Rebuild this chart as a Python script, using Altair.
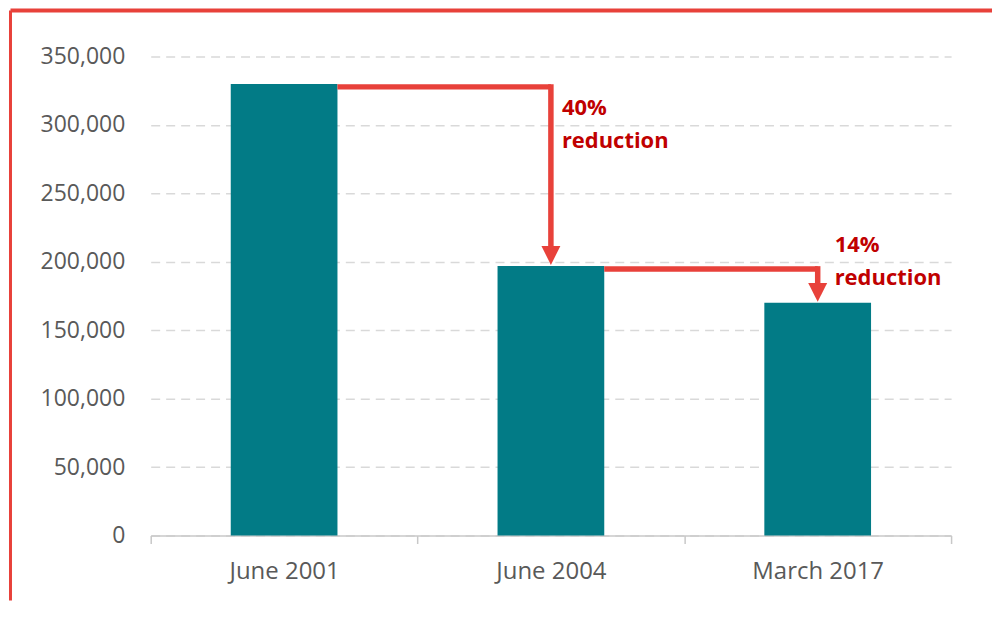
import altair as alt
import pandas as pd

categories = ["June 2001", "June 2004", "March 2017"]
values = [330000, 197000, 170000]
reductions = ["40%", "14%"]

TEAL = "#027B86"
RED = "#E8413A"
DARKRED = "#C00000"
GRAY = "#595959"
FONT = "Open Sans"
BAR_FRAC = 0.4

bars_df = pd.DataFrame({"period": categories, "count": values})
arrows_df = pd.DataFrame({
    "i": [0, 1],
    "from_period": categories[:-1],
    "to_period": categories[1:],
    "from_count": values[:-1],
    "to_count": values[1:],
    "label": [f"{r}\nreduction" for r in reductions],
})
arrows_df["shaft_end"] = arrows_df["to_count"] + 8000

xscale = alt.Scale(domain=categories, paddingInner=0, paddingOuter=0)
yscale = alt.Scale(domain=[0, 350000])

xaxis = alt.Axis(title=None, labelAngle=0, tickBand="extent", grid=False,
                 domainColor="#C8C8C8", domainWidth=1.5, tickColor="#C8C8C8",
                 tickWidth=1.5, tickSize=8, labelFont=FONT, labelFontSize=24,
                 labelColor=GRAY, labelPadding=16)
yaxis = alt.Axis(title=None, format=",", labelExpr="format(datum.value, ',')",
                 values=list(range(0, 350001, 50000)),
                 grid=True, gridDash=[9, 6], gridColor="#D9D9D9", gridWidth=1.5,
                 domain=False, ticks=False, labelPadding=26, labelFont=FONT,
                 labelFontSize=23, labelColor=GRAY)


def X(field, **kw):
    return alt.X(f"{field}:N", scale=xscale, axis=xaxis, **kw)


def Y(field):
    return alt.Y(f"{field}:Q", scale=yscale, axis=yaxis)


bars = alt.Chart(bars_df).mark_bar(color=TEAL, width=alt.RelativeBandSize(BAR_FRAC)).encode(
    x=X("period"), y=Y("count"))

arrows = alt.Chart(arrows_df)
hline = arrows.mark_rule(color=RED, strokeWidth=5.5, yOffset=3).encode(
    x=X("from_period", bandPosition=0.5 + BAR_FRAC / 2),
    x2=alt.X2("to_period", bandPosition=0.5),
    y=Y("from_count"),
)
vline = arrows.mark_rule(color=RED, strokeWidth=5.5, strokeCap="square", yOffset=3).encode(
    x=X("to_period", bandPosition=0.5),
    y=Y("from_count"),
    y2="shaft_end:Q",
)
heads = arrows.mark_point(shape="M-1,-2L1,-2L0,0Z", filled=True, size=361, color=RED,
                          opacity=1, strokeWidth=0, yOffset=-1).encode(
    x=X("to_period", bandPosition=0.5),
    y=Y("to_count"),
)
text1 = arrows.transform_filter("datum.i == 0").mark_text(
    align="left", baseline="top", dx=11, dy=14, lineBreak="\n", lineHeight=33,
    font=FONT, fontSize=22, fontWeight="bold", color=DARKRED).encode(
    x=X("to_period", bandPosition=0.5), y=Y("from_count"), text="label:N")
text2 = arrows.transform_filter("datum.i == 1").mark_text(
    align="left", baseline="top", dx=17, dy=-31, lineBreak="\n", lineHeight=33,
    font=FONT, fontSize=22, fontWeight="bold", color=DARKRED).encode(
    x=X("to_period", bandPosition=0.5), y=Y("from_count"), text="label:N")

frame_df = pd.DataFrame({"k": [0]})
frame_left = alt.Chart(frame_df).mark_rule(color=RED, strokeWidth=3).encode(
    x=alt.value(-140.5), y=alt.value(-46), y2=alt.value(545))
frame_top = alt.Chart(frame_df).mark_rule(color=RED, strokeWidth=4).encode(
    x=alt.value(-140.5), x2=alt.value(843), y=alt.value(-46))

chart = alt.layer(frame_left, frame_top, bars, hline, vline, heads, text1, text2).properties(
    width=802, height=480, padding=0
).configure_view(stroke=None)

chart.save("out.html", embed_options={"renderer": "svg", "actions": False})
